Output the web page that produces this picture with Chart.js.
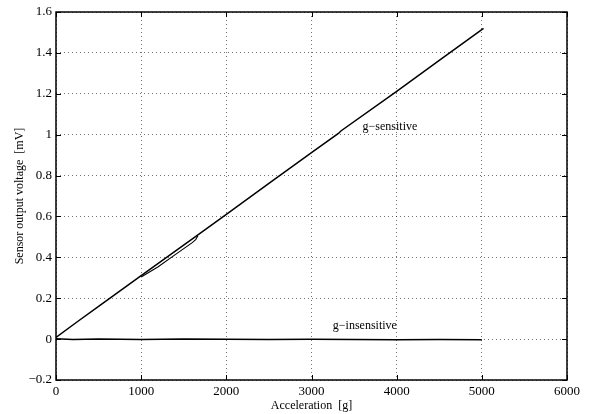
<!DOCTYPE html>
<html>
<head>
<meta charset="utf-8">
<script src="https://cdn.jsdelivr.net/npm/chart.js@4/dist/chart.umd.min.js"></script>
<style>
  html, body { margin: 0; padding: 0; background: #fff; }
  #wrap { width: 589px; height: 414px; }
</style>
</head>
<body>
<div id="wrap"><canvas id="sensorChart" width="589" height="414"></canvas></div>
<script>
// g-sensitive output (with the small hysteresis loop around 1000-1650 g)
const sensAccel = [0, 250, 500, 1000, 1650, 2000, 2500, 3000, 3320, 3345, 4000, 4500, 5020];
const sensVolt  = [0.008, 0.085, 0.160, 0.310, 0.505, 0.610, 0.762, 0.912, 1.007, 1.018, 1.212, 1.363, 1.520];
const loopAccel = [1000, 1200, 1400, 1600, 1640, 1665];
const loopVolt  = [0.304, 0.354, 0.413, 0.472, 0.486, 0.505];
// g-insensitive output
const insAccel = [0, 200, 500, 1000, 1500, 2000, 2500, 3000, 3500, 4000, 4500, 5000];
const insVolt  = [0.002, -0.002, 0.000, -0.002, 0.001, -0.001, -0.002, -0.001, -0.002, -0.003, -0.002, -0.003];

const xTicks = [0, 1000, 2000, 3000, 4000, 5000, 6000];
const yTicks = [-0.2, 0, 0.2, 0.4, 0.6, 0.8, 1, 1.2, 1.4, 1.6];

const labels = [
    { text: 'g\u2212sensitive', x: 3600, y: 1.04 },
    { text: 'g\u2212insensitive', x: 3250, y: 0.065 }
];

const serif = 'Liberation Serif, Times New Roman, serif';

function toPoints(xs, ys) {
    return xs.map((x, i) => ({ x: x, y: ys[i] }));
}

// frame, inward ticks and the text labels
const framePlugin = {
    id: 'frame',
    afterDraw(chart) {
        const ctx = chart.ctx;
        const a = chart.chartArea;
        const xs = chart.scales.x, ys = chart.scales.y;
        ctx.save();
        ctx.strokeStyle = '#000';
        ctx.lineWidth = 1;
        xTicks.forEach(v => {
            const px = Math.round(xs.getPixelForValue(v)) + 0.5;
            ctx.beginPath();
            ctx.moveTo(px, a.bottom); ctx.lineTo(px, a.bottom - 5);
            ctx.moveTo(px, a.top); ctx.lineTo(px, a.top + 5);
            ctx.stroke();
        });
        yTicks.forEach(v => {
            const py = Math.round(ys.getPixelForValue(v)) + 0.5;
            ctx.beginPath();
            ctx.moveTo(a.left, py); ctx.lineTo(a.left + 5, py);
            ctx.moveTo(a.right, py); ctx.lineTo(a.right - 5, py);
            ctx.stroke();
        });
        ctx.lineWidth = 1.5;
        ctx.strokeRect(a.left, a.top, a.right - a.left, a.bottom - a.top);

        ctx.fillStyle = '#000';
        ctx.font = '12px ' + serif;
        ctx.textBaseline = 'middle';
        ctx.textAlign = 'left';
        labels.forEach(l => {
            ctx.fillText(l.text, xs.getPixelForValue(l.x), ys.getPixelForValue(l.y));
        });
        ctx.restore();
    }
};

const ctx = document.getElementById('sensorChart').getContext('2d');
const sensorChart = new Chart(ctx, {
    type: 'scatter',
    data: {
        datasets: [
            { data: toPoints(sensAccel, sensVolt), borderColor: '#000', borderWidth: 1.5, showLine: true, pointRadius: 0, tension: 0 },
            { data: toPoints(loopAccel, loopVolt), borderColor: '#000', borderWidth: 1.1, showLine: true, pointRadius: 0, tension: 0 },
            { data: toPoints(insAccel, insVolt), borderColor: '#000', borderWidth: 1.5, showLine: true, pointRadius: 0, tension: 0 }
        ]
    },
    options: {
        responsive: false,
        animation: false,
        layout: { padding: { left: 0, top: 12, right: 22, bottom: 0 } },
        plugins: { legend: { display: false }, tooltip: { enabled: false } },
        scales: {
            x: {
                type: 'linear',
                min: 0, max: 6000,
                afterBuildTicks: s => { s.ticks = xTicks.map(v => ({ value: v })); },
                afterFit: s => { s.height = 34; },
                ticks: { color: '#000', padding: 4, font: { family: serif, size: 13 }, callback: v => String(v) },
                grid: { color: 'rgba(0,0,0,0.55)', borderDash: [1, 3], drawTicks: false, lineWidth: 1 },
                border: { display: false, dash: [1, 3] },
                title: { display: true, text: 'Acceleration  [g]', color: '#000', font: { family: serif, size: 12 }, padding: { top: 0, bottom: 1 } }
            },
            y: {
                type: 'linear',
                min: -0.2, max: 1.6,
                afterBuildTicks: s => { s.ticks = yTicks.map(v => ({ value: v })); },
                afterFit: s => { s.width = 56; },
                ticks: {
                    color: '#000', padding: 4, font: { family: serif, size: 13 },
                    callback: v => {
                        const r = Math.round(v * 10) / 10;
                        return r < 0 ? '\u2212' + Math.abs(r) : String(r);
                    }
                },
                grid: { color: 'rgba(0,0,0,0.55)', borderDash: [1, 3], drawTicks: false, lineWidth: 1 },
                border: { display: false, dash: [1, 3] },
                title: { display: true, text: 'Sensor output voltage  [mV]', color: '#000', font: { family: serif, size: 12 }, padding: { top: 13, bottom: 0 } }
            }
        }
    },
    plugins: [framePlugin]
});
</script>
</body>
</html>
